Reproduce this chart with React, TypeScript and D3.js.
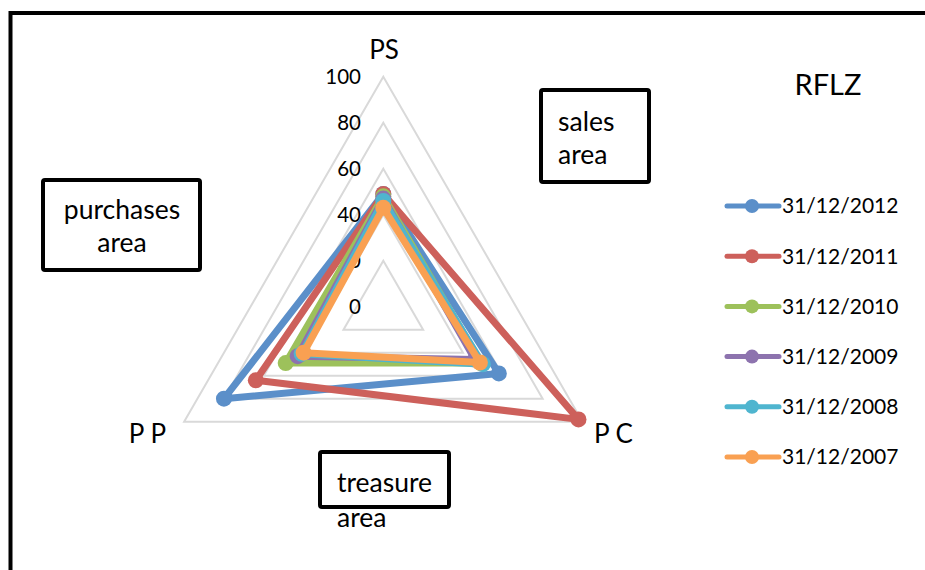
import React from "react";
import * as d3 from "d3";

const categories = ["PS", "P C", "P P"];
const seriesNames = ["31/12/2012", "31/12/2011", "31/12/2010", "31/12/2009", "31/12/2008", "31/12/2007"];
const v2012 = [49, 58, 80];
const v2011 = [49, 98, 64];
const v2010 = [48, 49, 49];
const v2009 = [47, 46, 43];
const v2008 = [46, 50, 41];
const v2007 = [43, 48.5, 40];
const seriesValues = [v2012, v2011, v2010, v2009, v2008, v2007];
const colors = ["#5B8FC9", "#CD605B", "#9DC15B", "#8D73AE", "#4FB5CF", "#F9A052"];
const ticks = [0, 20, 40, 60, 80, 100];
const title = "RFLZ";

const FONT = "Lato, 'Open Sans', sans-serif";

export default function App() {
  const W = 925, H = 570;
  const cx = 383.3, cy = 306.7;
  const r = d3.scaleLinear().domain([0, 100]).range([0, 230]);
  const angle = d3.scalePoint<string>().domain(categories).range([0, 240]);
  const pt = (cat: string, v: number): [number, number] => {
    const a = ((angle(cat)! - 90) * Math.PI) / 180;
    return [cx + r(v) * Math.cos(a), cy + r(v) * Math.sin(a)];
  };
  const line = d3.line<[number, number]>().curve(d3.curveLinearClosed);

  return (
    <svg width={W} height={H} style={{ position: "absolute", left: 0, top: 0 }} fontFamily={FONT}>
      <rect x={0} y={0} width={W} height={H} fill="white" />
      <rect x={10.5} y={13} width={W + 20} height={H + 20} fill="none" stroke="black" strokeWidth={4} />
      {/* grid */}
      {ticks.filter(t => t > 0).map(t => (
        <path key={t} d={line(categories.map(c => pt(c, t)))!} fill="none" stroke="#D9D9D9" strokeWidth={2} />
      ))}
      {/* tick labels */}
      {ticks.map(t => (
        <text key={t} x={361} y={cy - r(t)} dy="0.35em" textAnchor="end" fontSize={20.5} fill="#000">{t}</text>
      ))}
      {/* series */}
      {seriesValues.map((vals, i) => {
        const pts = categories.map((c, j) => pt(c, vals[j]));
        return (
          <g key={i}>
            <path d={line(pts)!} fill="none" stroke={colors[i]} strokeWidth={7} strokeLinejoin="round" />
            {pts.map((p, j) => (
              <circle key={j} cx={p[0]} cy={p[1]} r={8} fill={colors[i]} />
            ))}
          </g>
        );
      })}
      {/* category labels */}
      <text x={384} y={50} dy="0.35em" textAnchor="middle" fontSize={26}>{categories[0]}</text>
      <text x={594} y={434} dy="0.35em" textAnchor="start" fontSize={26}>{categories[1]}</text>
      <text x={166} y={434} dy="0.35em" textAnchor="end" fontSize={26}>{categories[2]}</text>
      {/* boxes */}
      <rect x={541} y={90} width={108} height={92} fill="white" stroke="black" strokeWidth={4} rx={2} />
      <text x={558} y={122} dy="0.35em" textAnchor="start" fontSize={26.5}>sales</text>
      <text x={558} y={155} dy="0.35em" textAnchor="start" fontSize={26.5}>area</text>
      <rect x={43} y={180} width={157} height={90} fill="white" stroke="black" strokeWidth={4} rx={2} />
      <text x={122} y={210} dy="0.35em" textAnchor="middle" fontSize={26.5}>purchases</text>
      <text x={122} y={243} dy="0.35em" textAnchor="middle" fontSize={26.5}>area</text>
      <rect x={320} y={452} width={129} height={55} fill="white" stroke="black" strokeWidth={4} rx={2} />
      <text x={337} y={483} dy="0.35em" textAnchor="start" fontSize={26.5}>treasure</text>
      <text x={337} y={518} dy="0.35em" textAnchor="start" fontSize={26.5}>area</text>
      {/* title */}
      <text x={828} y={85} dy="0.35em" textAnchor="middle" fontSize={29}>{title}</text>
      {/* legend */}
      {seriesNames.map((s, i) => {
        const y = 206 + i * 50.2;
        return (
          <g key={s}>
            <line x1={727} x2={779} y1={y} y2={y} stroke={colors[i]} strokeWidth={5} strokeLinecap="round" />
            <circle cx={752} cy={y} r={7} fill={colors[i]} />
            <text x={782} y={y} dy="0.35em" fontSize={21}>{s}</text>
          </g>
        );
      })}
    </svg>
  );
}
